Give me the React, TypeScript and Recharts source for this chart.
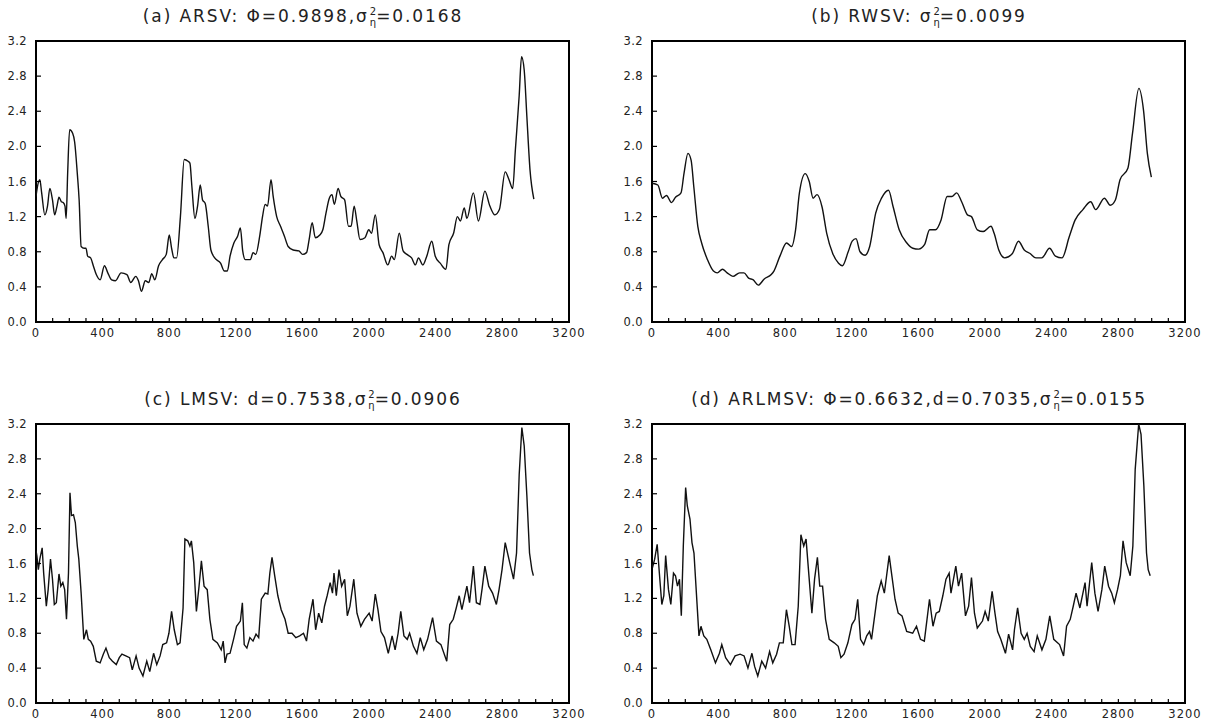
import { Line, LineChart, ReferenceArea, XAxis, YAxis } from "recharts";

// time index (obs.) and estimated volatility
const arsv: [number, number][] = [
  [0, 1.43], [5, 1.5], [23, 1.62], [34, 1.47], [53, 1.22], [69, 1.32], [83, 1.52], [99, 1.39],
  [112, 1.22], [126, 1.32], [138, 1.42], [152, 1.37], [163, 1.36], [174, 1.32], [181, 1.18],
  [190, 1.69], [202, 2.19], [220, 2.15], [232, 2.05], [248, 1.69], [259, 1.39], [271, 0.86],
  [289, 0.84], [300, 0.84], [310, 0.75], [328, 0.73], [344, 0.64], [362, 0.54], [385, 0.48],
  [411, 0.64], [431, 0.56], [454, 0.48], [477, 0.47], [511, 0.56], [546, 0.54], [569, 0.45],
  [599, 0.52], [615, 0.47], [633, 0.35], [656, 0.47], [677, 0.45], [695, 0.55], [713, 0.48],
  [736, 0.64], [759, 0.71], [782, 0.77], [800, 0.99], [814, 0.84], [828, 0.73], [844, 0.73],
  [867, 1.2], [890, 1.85], [913, 1.83], [924, 1.81], [936, 1.54], [954, 1.18], [970, 1.32],
  [986, 1.56], [1000, 1.39], [1016, 1.35], [1034, 1.09], [1050, 0.82], [1073, 0.73],
  [1108, 0.67], [1131, 0.58], [1149, 0.58], [1165, 0.75], [1188, 0.9], [1211, 0.98],
  [1227, 1.07], [1241, 0.81], [1257, 0.71], [1287, 0.71], [1303, 0.79], [1319, 0.77],
  [1344, 0.99], [1360, 1.2], [1376, 1.34], [1390, 1.32], [1411, 1.62], [1424, 1.43],
  [1445, 1.2], [1468, 1.09], [1491, 0.98], [1514, 0.86], [1544, 0.82], [1578, 0.81],
  [1601, 0.77], [1624, 0.79], [1640, 0.94], [1658, 1.13], [1677, 0.96], [1704, 0.99],
  [1722, 1.05], [1741, 1.24], [1761, 1.41], [1777, 1.45], [1791, 1.34], [1814, 1.52],
  [1830, 1.43], [1853, 1.39], [1876, 1.09], [1892, 1.09], [1910, 1.32], [1926, 1.15],
  [1945, 0.94], [1975, 0.96], [1998, 1.05], [2014, 1.01], [2037, 1.22], [2060, 0.88],
  [2083, 0.79], [2112, 0.65], [2135, 0.75], [2151, 0.71], [2181, 1.01], [2204, 0.81],
  [2227, 0.77], [2255, 0.73], [2278, 0.65], [2296, 0.73], [2323, 0.65], [2346, 0.75],
  [2376, 0.92], [2397, 0.75], [2427, 0.67], [2461, 0.6], [2479, 0.88], [2507, 1.01],
  [2530, 1.2], [2548, 1.15], [2571, 1.3], [2587, 1.18], [2626, 1.47], [2656, 1.15],
  [2695, 1.49], [2725, 1.32], [2755, 1.22], [2782, 1.28], [2817, 1.71], [2840, 1.62],
  [2862, 1.52], [2878, 1.96], [2901, 2.58], [2915, 3.02], [2931, 2.87], [2947, 2.34],
  [2966, 1.73], [2989, 1.4],
];

const rwsv: [number, number][] = [
  [0, 1.58], [35, 1.56], [63, 1.41], [87, 1.44], [117, 1.36], [141, 1.42], [174, 1.47],
  [192, 1.69], [216, 1.92], [235, 1.84], [251, 1.54], [275, 1.09], [298, 0.9], [333, 0.71],
  [369, 0.58], [392, 0.56], [423, 0.6], [451, 0.56], [486, 0.52], [526, 0.56], [552, 0.56],
  [580, 0.5], [608, 0.48], [638, 0.42], [674, 0.49], [716, 0.54], [732, 0.58], [768, 0.75],
  [808, 0.9], [838, 0.86], [862, 1.05], [885, 1.47], [920, 1.69], [944, 1.6], [967, 1.41],
  [991, 1.45], [1021, 1.31], [1049, 1.01], [1085, 0.78], [1120, 0.67], [1143, 0.64],
  [1178, 0.8], [1202, 0.92], [1225, 0.95], [1249, 0.8], [1279, 0.76], [1307, 0.86],
  [1343, 1.24], [1378, 1.41], [1420, 1.5], [1448, 1.31], [1484, 1.05], [1530, 0.9],
  [1566, 0.84], [1601, 0.83], [1636, 0.88], [1667, 1.05], [1702, 1.05], [1735, 1.16],
  [1772, 1.43], [1800, 1.43], [1829, 1.47], [1859, 1.37], [1894, 1.22], [1918, 1.2],
  [1953, 1.05], [1988, 1.03], [2035, 1.09], [2054, 1.01], [2082, 0.82], [2117, 0.73],
  [2164, 0.78], [2200, 0.92], [2235, 0.82], [2270, 0.78], [2305, 0.73], [2340, 0.73],
  [2387, 0.84], [2422, 0.75], [2462, 0.73], [2505, 0.97], [2540, 1.16], [2587, 1.28],
  [2634, 1.37], [2664, 1.28], [2716, 1.41], [2751, 1.33], [2782, 1.39], [2810, 1.62],
  [2857, 1.75], [2885, 2.15], [2923, 2.66], [2951, 2.41], [2974, 1.92], [2998, 1.65],
];

const lmsv: [number, number][] = [
  [0, 1.75], [5, 1.69], [14, 1.53], [23, 1.65], [37, 1.78], [46, 1.49], [62, 1.11], [73, 1.3],
  [87, 1.65], [99, 1.42], [110, 1.13], [122, 1.15], [138, 1.48], [149, 1.34], [161, 1.38],
  [172, 1.3], [183, 0.96], [195, 1.49], [204, 2.41], [213, 2.15], [225, 2.16], [236, 2.07],
  [248, 1.8], [257, 1.65], [271, 1.26], [287, 0.73], [303, 0.84], [314, 0.73], [328, 0.71],
  [344, 0.65], [362, 0.48], [385, 0.46], [404, 0.56], [420, 0.63], [440, 0.52], [459, 0.48],
  [482, 0.44], [500, 0.52], [516, 0.56], [539, 0.54], [562, 0.52], [578, 0.38], [601, 0.54],
  [619, 0.4], [642, 0.31], [665, 0.48], [683, 0.36], [706, 0.57], [725, 0.44], [745, 0.54],
  [761, 0.67], [784, 0.69], [798, 0.8], [814, 1.05], [830, 0.84], [849, 0.67], [865, 0.69],
  [883, 1.09], [894, 1.88], [911, 1.86], [924, 1.8], [933, 1.86], [947, 1.61], [963, 1.05],
  [979, 1.34], [993, 1.63], [1009, 1.34], [1028, 1.3], [1044, 0.96], [1062, 0.73],
  [1089, 0.69], [1112, 0.61], [1124, 0.71], [1135, 0.46], [1147, 0.56], [1165, 0.57],
  [1186, 0.73], [1204, 0.88], [1227, 0.94], [1239, 1.15], [1250, 0.67], [1266, 0.63],
  [1284, 0.75], [1303, 0.71], [1321, 0.79], [1337, 0.75], [1353, 1.19], [1376, 1.26],
  [1392, 1.25], [1404, 1.49], [1417, 1.67], [1433, 1.46], [1452, 1.23], [1472, 1.07],
  [1495, 0.96], [1514, 0.8], [1537, 0.8], [1560, 0.75], [1583, 0.77], [1606, 0.8],
  [1624, 0.71], [1640, 0.96], [1663, 1.19], [1679, 0.84], [1697, 1.03], [1716, 0.92],
  [1732, 1.11], [1748, 1.23], [1766, 1.38], [1780, 1.26], [1789, 1.49], [1803, 1.23],
  [1819, 1.53], [1835, 1.34], [1853, 1.42], [1869, 1.0], [1885, 1.11], [1908, 1.42],
  [1927, 1.03], [1950, 0.88], [1972, 0.96], [2000, 1.03], [2018, 0.94], [2037, 1.25],
  [2053, 1.07], [2071, 0.82], [2092, 0.75], [2115, 0.57], [2138, 0.77], [2156, 0.61],
  [2174, 0.8], [2190, 1.05], [2209, 0.77], [2229, 0.73], [2243, 0.8], [2266, 0.65],
  [2287, 0.57], [2307, 0.75], [2328, 0.61], [2351, 0.73], [2381, 0.98], [2404, 0.71],
  [2431, 0.67], [2466, 0.48], [2484, 0.9], [2505, 0.96], [2523, 1.09], [2541, 1.23],
  [2557, 1.07], [2587, 1.34], [2603, 1.15], [2626, 1.57], [2644, 1.15], [2665, 1.13],
  [2679, 1.32], [2695, 1.57], [2718, 1.34], [2741, 1.26], [2764, 1.13], [2780, 1.3],
  [2798, 1.53], [2817, 1.84], [2844, 1.61], [2867, 1.42], [2885, 1.72], [2901, 2.62],
  [2917, 3.16], [2931, 2.95], [2947, 2.38], [2963, 1.72], [2977, 1.53], [2986, 1.46],
];

const arlmsv: [number, number][] = [
  [0, 1.6], [5, 1.57], [16, 1.65], [31, 1.82], [47, 1.42], [59, 1.13], [71, 1.23], [82, 1.69],
  [99, 1.3], [113, 1.13], [129, 1.49], [141, 1.46], [153, 1.34], [165, 1.42], [176, 1.0],
  [188, 1.8], [202, 2.47], [212, 2.26], [228, 2.11], [240, 1.84], [252, 1.72], [264, 1.34],
  [282, 0.77], [294, 0.88], [311, 0.77], [329, 0.73], [353, 0.61], [381, 0.46], [405, 0.57],
  [419, 0.67], [442, 0.52], [471, 0.44], [499, 0.54], [529, 0.56], [553, 0.54], [576, 0.4],
  [600, 0.57], [616, 0.42], [635, 0.31], [659, 0.48], [682, 0.4], [706, 0.59], [725, 0.46],
  [748, 0.56], [765, 0.69], [788, 0.69], [807, 1.07], [824, 0.88], [840, 0.67], [859, 0.67],
  [878, 1.11], [894, 1.93], [911, 1.8], [925, 1.88], [936, 1.61], [960, 1.03], [976, 1.42],
  [993, 1.67], [1007, 1.34], [1024, 1.34], [1042, 0.96], [1064, 0.73], [1094, 0.69],
  [1118, 0.65], [1134, 0.52], [1153, 0.56], [1176, 0.69], [1200, 0.9], [1219, 0.96],
  [1235, 1.19], [1252, 0.73], [1271, 0.67], [1289, 0.77], [1306, 0.82], [1318, 0.73],
  [1353, 1.23], [1376, 1.4], [1395, 1.26], [1424, 1.69], [1440, 1.46], [1459, 1.19],
  [1478, 1.03], [1501, 1.0], [1529, 0.82], [1565, 0.8], [1588, 0.88], [1612, 0.73],
  [1635, 0.71], [1666, 1.19], [1687, 0.88], [1706, 1.03], [1725, 1.05], [1746, 1.23],
  [1765, 1.42], [1784, 1.49], [1795, 1.26], [1824, 1.57], [1840, 1.34], [1859, 1.49],
  [1882, 1.0], [1901, 1.11], [1918, 1.44], [1936, 1.03], [1953, 0.86], [1984, 0.94],
  [2000, 1.05], [2019, 0.94], [2042, 1.28], [2059, 1.03], [2075, 0.82], [2094, 0.73],
  [2122, 0.57], [2141, 0.79], [2165, 0.61], [2176, 0.84], [2195, 1.09], [2216, 0.8],
  [2235, 0.73], [2252, 0.8], [2271, 0.65], [2294, 0.59], [2313, 0.77], [2341, 0.61],
  [2365, 0.73], [2388, 1.0], [2412, 0.73], [2447, 0.67], [2471, 0.54], [2489, 0.88],
  [2511, 0.96], [2529, 1.11], [2546, 1.26], [2569, 1.09], [2600, 1.38], [2612, 1.11],
  [2640, 1.61], [2659, 1.26], [2678, 1.05], [2701, 1.3], [2718, 1.57], [2741, 1.34],
  [2760, 1.26], [2776, 1.15], [2795, 1.3], [2812, 1.46], [2828, 1.86], [2847, 1.61],
  [2871, 1.46], [2887, 1.8], [2901, 2.68], [2922, 3.2], [2936, 3.08], [2953, 2.49],
  [2969, 1.72], [2979, 1.53], [2991, 1.46],
];

const xTicks = [
  0, 100, 200, 300, 400, 500, 600, 700, 800, 900, 1000, 1100, 1200, 1300, 1400, 1500, 1600,
  1700, 1800, 1900, 2000, 2100, 2200, 2300, 2400, 2500, 2600, 2700, 2800, 2900, 3000, 3100,
  3200,
];
const yTicks = [0, 0.4, 0.8, 1.2, 1.6, 2.0, 2.4, 2.8, 3.2];

const xTickFont = { fontSize: 11.5, fill: "#222", fontFamily: "DejaVu Sans", letterSpacing: 1 };
const yTickFont = { fontSize: 11.5, fill: "#222", fontFamily: "DejaVu Sans", letterSpacing: 0.4 };
const tickStroke = { stroke: "#000", strokeWidth: 1.2 };

// sigma with stacked superscript 2 and subscript eta
function SigmaEta() {
  return (
    <span>
      σ
      <span
        style={{
          display: "inline-flex",
          flexDirection: "column",
          fontSize: 10,
          lineHeight: "11px",
          verticalAlign: "middle",
          marginLeft: 1,
          letterSpacing: 0,
        }}
      >
        <span>2</span>
        <span>η</span>
      </span>
    </span>
  );
}

type PanelProps = {
  title: React.ReactNode;
  series: [number, number][];
  curve: "linear" | "monotone";
  left: number;
  top: number;
  height: number;
};

function Panel({ title, series, curve, left, top, height }: PanelProps) {
  const rows = series.map(([t, v]) => ({ t, v }));

  return (
    <div style={{ position: "absolute", left, top, width: 600, height }}>
      <div
        style={{
          position: "absolute",
          left: 36,
          width: 534,
          top: 4,
          textAlign: "center",
          fontFamily: "DejaVu Sans",
          fontSize: 17,
          letterSpacing: 1.9,
          lineHeight: "24px",
          color: "#222",
          whiteSpace: "nowrap",
        }}
      >
        {title}
      </div>
      <LineChart
        width={600}
        height={height}
        data={rows}
        margin={{ top: 40, right: 30, bottom: 4, left: 0 }}
      >
        <XAxis
          xAxisId="bottom"
          type="number"
          dataKey="t"
          domain={[0, 3200]}
          allowDataOverflow
          ticks={xTicks}
          interval={0}
          height={24}
          tickSize={-4}
          tickMargin={11}
          tick={xTickFont}
          tickFormatter={(v: number) => (v % 400 === 0 ? String(v) : "")}
          axisLine={false}
          tickLine={tickStroke}
        />
        <XAxis
          xAxisId="top"
          orientation="top"
          type="number"
          dataKey="t"
          domain={[0, 3200]}
          allowDataOverflow
          ticks={xTicks}
          interval={0}
          height={1}
          tickSize={-4}
          tick={false}
          axisLine={false}
          tickLine={tickStroke}
        />
        <YAxis
          yAxisId="left"
          type="number"
          domain={[0, 3.2]}
          allowDataOverflow
          ticks={yTicks}
          interval={0}
          width={36}
          tickSize={-5}
          tickMargin={14}
          tick={yTickFont}
          tickFormatter={(v: number) => v.toFixed(1)}
          axisLine={false}
          tickLine={tickStroke}
        />
        <YAxis
          yAxisId="right"
          orientation="right"
          type="number"
          domain={[0, 3.2]}
          allowDataOverflow
          ticks={yTicks}
          interval={0}
          width={1}
          tickSize={-5}
          tick={false}
          axisLine={false}
          tickLine={tickStroke}
        />
        <ReferenceArea
          xAxisId="bottom"
          yAxisId="left"
          x1={0}
          x2={3200}
          y1={0}
          y2={3.2}
          fill="none"
          fillOpacity={0}
          stroke="#000"
          strokeWidth={2}
          strokeOpacity={1}
          ifOverflow="visible"
        />
        <Line
          xAxisId="bottom"
          yAxisId="left"
          type={curve}
          dataKey="v"
          stroke="#111"
          strokeWidth={1.4}
          dot={false}
          isAnimationActive={false}
        />
      </LineChart>
    </div>
  );
}

export default function App() {
  return (
    <div
      style={{
        position: "absolute",
        left: 0,
        top: 0,
        width: 1213,
        height: 720,
        background: "#fff",
      }}
    >
      <Panel
        left={0}
        top={0}
        height={350}
        series={arsv}
        curve="monotone"
        title={
          <>
            (a) ARSV: Φ=0.9898,<SigmaEta />=0.0168
          </>
        }
      />
      <Panel
        left={616}
        top={0}
        height={350}
        series={rwsv}
        curve="monotone"
        title={
          <>
            (b) RWSV: <SigmaEta />=0.0099
          </>
        }
      />
      <Panel
        left={0}
        top={383}
        height={348}
        series={lmsv}
        curve="linear"
        title={
          <>
            (c) LMSV: d=0.7538,<SigmaEta />=0.0906
          </>
        }
      />
      <Panel
        left={616}
        top={383}
        height={348}
        series={arlmsv}
        curve="linear"
        title={
          <>
            (d) ARLMSV: Φ=0.6632,d=0.7035,<SigmaEta />=0.0155
          </>
        }
      />
    </div>
  );
}
